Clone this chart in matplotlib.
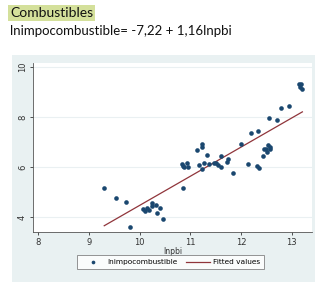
import matplotlib
matplotlib.use("Agg")
import matplotlib.pyplot as plt
from matplotlib.patches import Rectangle
import numpy as np

# data
lnpbi = [9.30, 9.54, 9.72, 9.80, 10.07, 10.11, 10.14, 10.18, 10.24, 10.25, 10.32, 10.35, 10.40, 10.45,
         10.85, 10.84, 10.86, 10.93, 10.95, 10.88,
         11.14, 11.22, 11.23, 11.17, 11.22, 11.27, 11.33, 11.37,
         11.47, 11.51, 11.55, 11.60, 11.60, 11.73, 11.75, 11.85,
         12.00, 12.13, 12.19, 12.34, 12.32, 12.36,
         12.44, 12.46, 12.49, 12.52, 12.54, 12.57, 12.58,
         12.56, 12.70, 12.79, 12.94, 13.15, 13.19, 13.17, 13.21]
lnimpo = [5.16, 4.77, 4.62, 3.60, 4.32, 4.24, 4.36, 4.30, 4.56, 4.47, 4.49, 4.18, 4.36, 3.93,
          5.16, 6.12, 6.05, 6.15, 6.00, 6.00,
          6.68, 6.91, 6.81, 6.08, 5.91, 6.15, 6.47, 6.12,
          6.18, 6.15, 6.10, 6.02, 6.44, 6.21, 6.31, 5.75,
          6.91, 6.11, 7.35, 7.45, 6.04, 5.95,
          6.43, 6.72, 6.74, 6.62, 6.90, 6.82, 6.72,
          7.94, 7.86, 8.37, 8.45, 9.32, 9.32, 9.20, 9.10]
intercept = -7.12
slope = 1.16
xticks = [8, 9, 10, 11, 12, 13]
yticks = [4, 6, 8, 10]

W, H = 320, 288
fig = plt.figure(figsize=(W/100, H/100), dpi=100)
fig.patch.set_facecolor("white")

# graph region background
fig.patches.append(Rectangle((12/W, 1-282/H), (315-12)/W, (282-55)/H,
                             transform=fig.transFigure, facecolor="#e9f1f2",
                             edgecolor="none", zorder=-5))

ax = fig.add_axes([33.3/W, 1-231.7/H, (312-33.3)/W, (231.7-63)/H])
ax.set_zorder(1)
ax.set_facecolor("white")
ax.set_xlim(7.90, 13.40)
ax.set_ylim(3.43, 10.15)

for yv in yticks:
    ax.axhline(yv, color="#eaf0f2", lw=0.8, zorder=1)

ax.scatter(lnpbi, lnimpo, s=11, color="#1a476f", zorder=3, linewidths=0,
           label="lnimpocombustible")
xf = np.array([min(lnpbi), max(lnpbi)])
ax.plot(xf, intercept + slope*xf, color="#90353b", lw=0.9, zorder=2,
        label="Fitted values")

ax.set_xticks(xticks)
ax.set_yticks(yticks)
ax.set_yticklabels([str(v) for v in yticks], rotation=90, va="center")
ax.tick_params(labelsize=6, colors="#333333", length=2.5, width=0.6, pad=2)
for side in ["top", "right"]:
    ax.spines[side].set_visible(False)
for side in ["left", "bottom"]:
    ax.spines[side].set_color("#555555")
    ax.spines[side].set_linewidth(0.6)
ax.set_xlabel("lnpbi", fontsize=5.5, labelpad=0, color="#333333")

leg = fig.legend(loc="center", bbox_to_anchor=(170.5/W, 1-262/H), ncol=2,
                 fontsize=5.3, frameon=True, fancybox=False, edgecolor="#666666",
                 markerscale=0.8, handlelength=3.2, columnspacing=1.2, borderpad=0.5,
                 handletextpad=0.4)
leg.get_frame().set_linewidth(0.6)

fig.text(10/W, 1-13/H, "Combustibles", fontsize=10, family="Lato", va="center", ha="left",
         color="#111111",
         bbox=dict(boxstyle="square,pad=0.15", facecolor="#d4e09b", edgecolor="none"))
fig.text(10/W, 1-31/H, "lnimpocombustible= -7,22 + 1,16lnpbi", fontsize=9.5, family="Lato",
         va="center", ha="left", color="#111111")

fig.savefig("out.png", dpi=100)
